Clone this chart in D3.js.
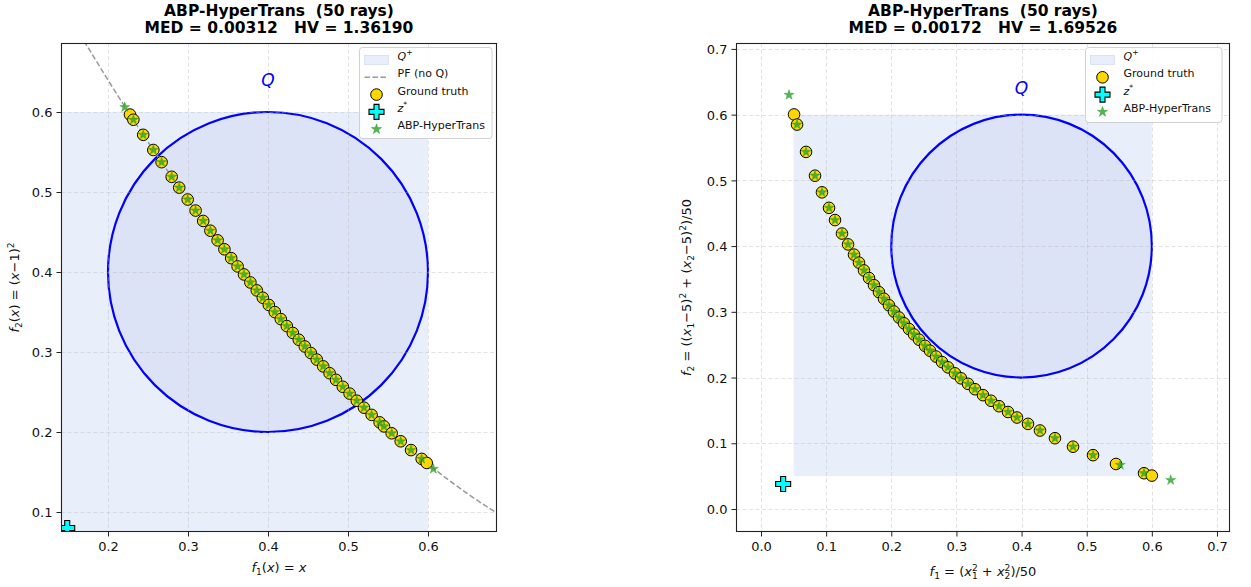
<!DOCTYPE html>
<html>
<head>
<meta charset="utf-8">
<script src="https://cdn.jsdelivr.net/npm/d3@7"></script>
<style>
  body { margin: 0; background: #fff; }
  svg text { font-family: "DejaVu Sans", sans-serif; white-space: pre; }
</style>
</head>
<body>
<svg id="fig" width="1251" height="587"></svg>
<script>
// ---------- data: left problem, f1 = x, f2 = (x-1)^2 ----------
const leftTitle = ["ABP-HyperTrans  (50 rays)", "MED = 0.00312   HV = 1.36190"];
const leftTicksX = [0.2, 0.3, 0.4, 0.5, 0.6];
const leftTicksY = [0.1, 0.2, 0.3, 0.4, 0.5, 0.6];
const leftPFf1 = [0.17, 0.20, 0.25, 0.30, 0.35, 0.40, 0.45, 0.50, 0.55, 0.60, 0.65, 0.69];
const leftPFf2 = [0.6889, 0.64, 0.5625, 0.49, 0.4225, 0.36, 0.3025, 0.25, 0.2025, 0.16, 0.1225, 0.0961];
const leftTruthF1 = [0.2275, 0.2317, 0.2440, 0.2567, 0.2670, 0.2796, 0.2890, 0.2996, 0.3095, 0.3190,
  0.3280, 0.3370, 0.3455, 0.3540, 0.3620, 0.3700, 0.3780, 0.3860, 0.3935, 0.4010,
  0.4085, 0.4160, 0.4235, 0.4310, 0.4385, 0.4460, 0.4535, 0.4610, 0.4690, 0.4770,
  0.4850, 0.4935, 0.5020, 0.5110, 0.5200, 0.5295, 0.5395, 0.5450, 0.5546, 0.5659,
  0.5788, 0.5921, 0.5984];
const leftTruthF2 = [0.5968, 0.5903, 0.5715, 0.5525, 0.5373, 0.5190, 0.5055, 0.4906, 0.4768, 0.4638,
  0.4516, 0.4396, 0.4284, 0.4173, 0.4070, 0.3969, 0.3869, 0.3770, 0.3678, 0.3588,
  0.3499, 0.3411, 0.3324, 0.3238, 0.3153, 0.3069, 0.2987, 0.2905, 0.2820, 0.2735,
  0.2652, 0.2565, 0.2480, 0.2391, 0.2304, 0.2214, 0.2121, 0.2070, 0.1984, 0.1884,
  0.1774, 0.1664, 0.1613];
const leftPredF1 = [0.2210, 0.2317, 0.2440, 0.2567, 0.2670, 0.2796, 0.2890, 0.2996, 0.3095, 0.3190,
  0.3280, 0.3370, 0.3455, 0.3540, 0.3620, 0.3700, 0.3780, 0.3860, 0.3935, 0.4010,
  0.4085, 0.4160, 0.4235, 0.4310, 0.4385, 0.4460, 0.4535, 0.4610, 0.4690, 0.4770,
  0.4850, 0.4935, 0.5020, 0.5110, 0.5200, 0.5295, 0.5395, 0.5450, 0.5546, 0.5659,
  0.5788, 0.5921, 0.6067];
const leftPredF2 = [0.6060, 0.5903, 0.5715, 0.5525, 0.5373, 0.5190, 0.5055, 0.4906, 0.4768, 0.4638,
  0.4516, 0.4396, 0.4284, 0.4173, 0.4070, 0.3969, 0.3869, 0.3770, 0.3678, 0.3588,
  0.3499, 0.3411, 0.3324, 0.3238, 0.3153, 0.3069, 0.2987, 0.2905, 0.2820, 0.2735,
  0.2652, 0.2565, 0.2480, 0.2391, 0.2304, 0.2214, 0.2121, 0.2070, 0.1984, 0.1884,
  0.1774, 0.1664, 0.1538];
const leftIdeal = [0.149, 0.080];

// ---------- data: right problem, quadratic objectives ----------
const rightTitle = ["ABP-HyperTrans  (50 rays)", "MED = 0.00172   HV = 1.69526"];
const rightTicksX = [0.0, 0.1, 0.2, 0.3, 0.4, 0.5, 0.6, 0.7];
const rightTicksY = [0.0, 0.1, 0.2, 0.3, 0.4, 0.5, 0.6, 0.7];
const rightTruthF1 = [0.0507, 0.0553, 0.0691, 0.0829, 0.0936, 0.1044, 0.1136, 0.1243, 0.1336, 0.1428,
  0.1504, 0.1581, 0.1658, 0.1735, 0.1811, 0.1888, 0.1965, 0.2042, 0.2119, 0.2195,
  0.2272, 0.2349, 0.2426, 0.2518, 0.2594, 0.2687, 0.2779, 0.2871, 0.2978, 0.3070,
  0.3178, 0.3285, 0.3408, 0.3531, 0.3654, 0.3792, 0.3930, 0.4099, 0.4283, 0.4513,
  0.4790, 0.5097, 0.5450, 0.5880, 0.6000];
const rightTruthF2 = [0.6003, 0.5849, 0.5433, 0.5071, 0.4818, 0.4582, 0.4396, 0.4191, 0.4026, 0.3870,
  0.3748, 0.3629, 0.3514, 0.3405, 0.3299, 0.3198, 0.3099, 0.3004, 0.2913, 0.2825,
  0.2738, 0.2655, 0.2576, 0.2482, 0.2408, 0.2319, 0.2235, 0.2155, 0.2064, 0.1988,
  0.1904, 0.1822, 0.1732, 0.1647, 0.1564, 0.1476, 0.1392, 0.1295, 0.1194, 0.1077,
  0.0948, 0.0819, 0.0685, 0.0544, 0.0508];
const rightPredF1 = [0.0430, 0.0553, 0.0691, 0.0829, 0.0936, 0.1044, 0.1136, 0.1243, 0.1336, 0.1428,
  0.1504, 0.1581, 0.1658, 0.1735, 0.1811, 0.1888, 0.1965, 0.2042, 0.2119, 0.2195,
  0.2272, 0.2349, 0.2426, 0.2518, 0.2594, 0.2687, 0.2779, 0.2871, 0.2978, 0.3070,
  0.3178, 0.3285, 0.3408, 0.3531, 0.3654, 0.3792, 0.3930, 0.4099, 0.4283, 0.4513,
  0.4790, 0.5097, 0.5515, 0.5880, 0.6290];
const rightPredF2 = [0.6300, 0.5849, 0.5433, 0.5071, 0.4818, 0.4582, 0.4396, 0.4191, 0.4026, 0.3870,
  0.3748, 0.3629, 0.3514, 0.3405, 0.3299, 0.3198, 0.3099, 0.3004, 0.2913, 0.2825,
  0.2738, 0.2655, 0.2576, 0.2482, 0.2408, 0.2319, 0.2235, 0.2155, 0.2064, 0.1988,
  0.1904, 0.1822, 0.1732, 0.1647, 0.1564, 0.1476, 0.1392, 0.1295, 0.1194, 0.1077,
  0.0948, 0.0819, 0.0670, 0.0544, 0.0440];
const rightIdeal = [0.034, 0.038];

// preference region Q (disc) and its dominated box Q+
const qCenter = [0.4, 0.4];
const qRadius = 0.2;
const qPlusLo = 0.05;
const qPlusHi = 0.6;

// ---------- styling ----------
const C = {
  qPlus: "#e9effa",
  qPlusEdge: "#c9d6f0",
  qFill: "#dde3f7",
  qStroke: "#0000ff",
  pf: "#999999",
  truth: "#ffd700",
  pred: "#2ca02c",
  ideal: "#00ffff",
  grid: "#b0b0b0"
};

const svg = d3.select("#fig");
let clipId = 0;

// mathtext-like label: parts are [text, flags, dx]; flags: i = italic, _ = subscript, ^ = superscript
function mathText(sel, parts, fs) {
  let shift = 0;
  parts.forEach(([t, f, dx]) => {
    const sub = f.includes("_"), sup = f.includes("^");
    const target = sub ? 0.22 * fs : sup ? -0.42 * fs : 0;
    const ts = sel.append("tspan").text(t)
      .attr("dy", target - shift)
      .style("font-size", (sub || sup) ? (fs * 0.7) + "px" : fs + "px")
      .style("font-style", f.includes("i") ? "italic" : "normal");
    if (dx) ts.attr("dx", dx);
    shift = target;
  });
}

function plusPath(cx, cy, s) {
  // filled plus marker, arm width s/3
  const a = s / 2, b = s / 6;
  return `M${cx - b},${cy - a}H${cx + b}V${cy - b}H${cx + a}V${cy + b}H${cx + b}V${cy + a}H${cx - b}V${cy + b}H${cx - a}V${cy - b}H${cx - b}Z`;
}

const star = d3.symbol().type(d3.symbolStar).size(32);
const dotR = 5.8;

function drawPanel(cfg) {
  const { box } = cfg;
  const x = d3.scaleLinear().domain(cfg.xDomain).range([box.x0, box.x1]);
  const y = d3.scaleLinear().domain(cfg.yDomain).range([box.y1, box.y0]);
  const g = svg.append("g");
  const id = "clip" + (clipId++);
  g.append("clipPath").attr("id", id).append("rect")
    .attr("x", box.x0).attr("y", box.y0)
    .attr("width", box.x1 - box.x0).attr("height", box.y1 - box.y0);
  const plot = g.append("g").attr("clip-path", `url(#${id})`);

  // Q+ box
  plot.append("rect")
    .attr("x", x(qPlusLo)).attr("y", y(qPlusHi))
    .attr("width", x(qPlusHi) - x(qPlusLo)).attr("height", y(qPlusLo) - y(qPlusHi))
    .attr("fill", C.qPlus);

  // Q disc
  plot.append("ellipse")
    .attr("cx", x(qCenter[0])).attr("cy", y(qCenter[1]))
    .attr("rx", x(qCenter[0] + qRadius) - x(qCenter[0]))
    .attr("ry", y(qCenter[1]) - y(qCenter[1] + qRadius))
    .attr("fill", C.qFill).attr("stroke", C.qStroke).attr("stroke-width", 2.2);

  // grid
  const grid = plot.append("g").attr("stroke", C.grid).attr("stroke-opacity", 0.45)
    .attr("stroke-width", 0.8).attr("stroke-dasharray", "4,2.5");
  cfg.ticksX.forEach(v => grid.append("line")
    .attr("x1", Math.round(x(v)) + 0.5).attr("x2", Math.round(x(v)) + 0.5)
    .attr("y1", box.y0).attr("y2", box.y1));
  cfg.ticksY.forEach(v => grid.append("line")
    .attr("y1", Math.round(y(v)) + 0.5).attr("y2", Math.round(y(v)) + 0.5)
    .attr("x1", box.x0).attr("x2", box.x1));

  // unconstrained Pareto front
  if (cfg.pfF1) {
    const line = d3.line().x(d => x(d[0])).y(d => y(d[1])).curve(d3.curveMonotoneX);
    plot.append("path").datum(d3.zip(cfg.pfF1, cfg.pfF2))
      .attr("d", line).attr("fill", "none").attr("stroke", C.pf)
      .attr("stroke-width", 1.5).attr("stroke-dasharray", "5.5,2.5");
  }

  // ground truth points
  plot.append("g").selectAll("circle").data(d3.zip(cfg.truthF1, cfg.truthF2)).join("circle")
    .attr("cx", d => x(d[0])).attr("cy", d => y(d[1])).attr("r", dotR)
    .attr("fill", C.truth).attr("stroke", "#000").attr("stroke-width", 1);

  // predicted points
  plot.append("g").selectAll("path").data(d3.zip(cfg.predF1, cfg.predF2)).join("path")
    .attr("transform", d => `translate(${x(d[0])},${y(d[1])})`)
    .attr("d", star).attr("fill", C.pred).attr("fill-opacity", 0.8)
    .attr("stroke", C.pred).attr("stroke-opacity", 0.8).attr("stroke-width", 0.5);

  // ideal point
  plot.append("path").attr("d", plusPath(x(cfg.ideal[0]), y(cfg.ideal[1]), 15))
    .attr("fill", C.ideal).attr("stroke", "#000").attr("stroke-width", 1.1);

  // spines
  g.append("rect").attr("x", box.x0 + 0.5).attr("y", box.y0 + 0.5)
    .attr("width", box.x1 - box.x0 - 1).attr("height", box.y1 - box.y0 - 1)
    .attr("fill", "none").attr("stroke", "#222").attr("stroke-width", 1.1);

  const fmt = d3.format(".1f");
  const ax = g.append("g").attr("transform", `translate(0,${box.y1})`)
    .call(d3.axisBottom(x).tickValues(cfg.ticksX).tickFormat(fmt).tickSize(4.5).tickPadding(4));
  const ay = g.append("g").attr("transform", `translate(${box.x0},0)`)
    .call(d3.axisLeft(y).tickValues(cfg.ticksY).tickFormat(fmt).tickSize(4.5).tickPadding(4));
  [ax, ay].forEach(a => {
    a.select(".domain").remove();
    a.selectAll("line").attr("stroke", "#222").attr("stroke-width", 1);
    a.selectAll("text").style("font-size", "13px").style("font-family", "DejaVu Sans").style("fill", "#111");
  });
  ax.selectAll("text").attr("dy", "0.78em");
  ay.selectAll("text").attr("dy", "0.36em");

  // Q label
  g.append("text").attr("x", x(qCenter[0])).attr("y", y(0.64))
    .attr("text-anchor", "middle").attr("dy", "0.36em")
    .style("font-size", "17px").style("font-style", "italic").style("fill", C.qStroke)
    .text("Q");

  // title
  const cx = (box.x0 + box.x1) / 2;
  const t = g.append("text").attr("text-anchor", "middle")
    .style("font-size", "15.5px").style("font-weight", "bold").style("fill", "#000");
  t.append("tspan").attr("x", cx).attr("y", 15.5).text(cfg.title[0]);
  t.append("tspan").attr("x", cx).attr("y", 32.5).text(cfg.title[1]);

  // axis labels
  const xl = g.append("text").attr("x", cx).attr("y", cfg.xLabelY).attr("text-anchor", "middle")
    .style("font-size", "13px").style("fill", "#111");
  mathText(xl, cfg.xLabel, 13);
  const cy = (box.y0 + box.y1) / 2;
  const yl = g.append("text").attr("transform", `translate(${cfg.yLabelX},${cy}) rotate(-90)`)
    .attr("text-anchor", "middle").style("font-size", "13px").style("fill", "#111");
  mathText(yl, cfg.yLabel, 13);

  // legend
  const L = cfg.legend;
  const lg = g.append("g").attr("transform", `translate(${L.x},${L.y})`);
  lg.append("rect").attr("width", L.w).attr("height", L.h).attr("rx", 3)
    .attr("fill", "#fff").attr("fill-opacity", 0.85).attr("stroke", "#d0d0d0").attr("stroke-width", 1);
  const rowH = 17.3;
  L.items.forEach((it, i) => {
    const ry = 12.5 + i * rowH;
    const hx = 17;
    if (it.kind === "patch") {
      lg.append("rect").attr("x", hx - 12).attr("y", ry - 4.5).attr("width", 24).attr("height", 9)
        .attr("fill", C.qPlus).attr("stroke", C.qPlusEdge).attr("stroke-width", 0.6);
    } else if (it.kind === "dash") {
      lg.append("line").attr("x1", hx - 12).attr("x2", hx + 12).attr("y1", ry).attr("y2", ry)
        .attr("stroke", C.pf).attr("stroke-width", 1.5).attr("stroke-dasharray", "5.5,2.5");
    } else if (it.kind === "truth") {
      lg.append("circle").attr("cx", hx).attr("cy", ry).attr("r", dotR)
        .attr("fill", C.truth).attr("stroke", "#000").attr("stroke-width", 1);
    } else if (it.kind === "ideal") {
      lg.append("path").attr("d", plusPath(hx, ry, 15))
        .attr("fill", C.ideal).attr("stroke", "#000").attr("stroke-width", 1.1);
    } else if (it.kind === "pred") {
      lg.append("path").attr("transform", `translate(${hx},${ry})`).attr("d", star)
        .attr("fill", C.pred).attr("fill-opacity", 0.8).attr("stroke", C.pred).attr("stroke-width", 0.5);
    }
    const tx = lg.append("text").attr("x", 38).attr("y", ry).attr("dy", "0.36em")
      .style("font-size", "11px").style("fill", "#111");
    mathText(tx, it.label, 11);
  });
}

const legendItemsLeft = [
  { kind: "patch", label: [["Q", "i"], ["+", "^"]] },
  { kind: "dash", label: [["PF (no Q)", ""]] },
  { kind: "truth", label: [["Ground truth", ""]] },
  { kind: "ideal", label: [["z", "i"], ["*", "^"]] },
  { kind: "pred", label: [["ABP-HyperTrans", ""]] }
];
const legendItemsRight = legendItemsLeft.filter(d => d.kind !== "dash");

drawPanel({
  box: { x0: 61, x1: 497, y0: 43, y1: 532 },
  xDomain: [0.14125, 0.68625], yDomain: [0.075, 0.68625],
  ticksX: leftTicksX, ticksY: leftTicksY,
  pfF1: leftPFf1, pfF2: leftPFf2,
  truthF1: leftTruthF1, truthF2: leftTruthF2,
  predF1: leftPredF1, predF2: leftPredF2,
  ideal: leftIdeal,
  title: leftTitle,
  xLabelY: 572, yLabelX: 19,
  xLabel: [["f", "i"], ["1", "_"], ["(", ""], ["x", "i"], [")", ""], [" = ", ""], ["x", "i"]],
  yLabel: [["f", "i"], ["2", "_"], ["(", ""], ["x", "i"], [") = (", ""], ["x", "i"], ["\u22121)", ""], ["2", "^"]],
  legend: { x: 359.5, y: 47.5, w: 132.5, h: 91, items: legendItemsLeft }
});

drawPanel({
  box: { x0: 736, x1: 1230, y0: 43, y1: 532 },
  xDomain: [-0.0384, 0.72], yDomain: [-0.035, 0.709],
  ticksX: rightTicksX, ticksY: rightTicksY,
  truthF1: rightTruthF1, truthF2: rightTruthF2,
  predF1: rightPredF1, predF2: rightPredF2,
  ideal: rightIdeal,
  title: rightTitle,
  xLabelY: 576, yLabelX: 691,
  xLabel: [["f", "i"], ["1", "_"], [" = (", ""], ["x", "i"], ["1", "_"], ["2", "^", -5.8], [" + ", ""],
           ["x", "i"], ["2", "_"], ["2", "^", -5.8], [")/50", ""]],
  yLabel: [["f", "i"], ["2", "_"], [" = ((", ""], ["x", "i"], ["1", "_"], ["\u22125)", ""], ["2", "^"],
           [" + (", ""], ["x", "i"], ["2", "_"], ["\u22125)", ""], ["2", "^"], [")/50", ""]],
  legend: { x: 1085.5, y: 47.5, w: 136.5, h: 75, items: legendItemsRight }
});
</script>
</body>
</html>
